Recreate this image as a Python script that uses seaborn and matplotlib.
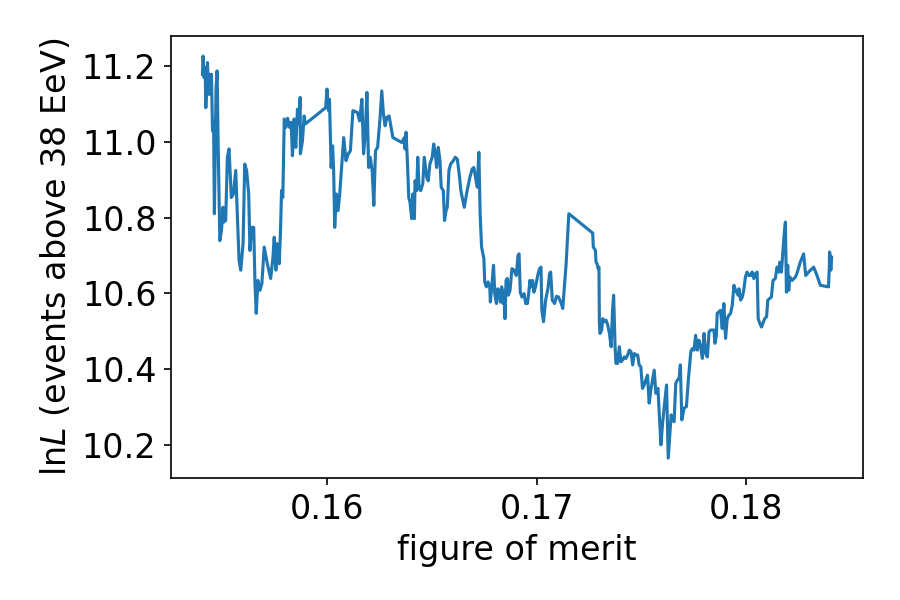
import matplotlib
matplotlib.use("Agg")
import matplotlib.pyplot as plt
import seaborn as sns
import numpy as np
import pandas as pd

# figure of merit (x) and lnL (y)
fom = [
    0.15403, 0.15406, 0.15411, 0.15416, 0.15419, 0.15427, 0.15432, 0.15438, 0.15443, 0.15446,
    0.15451, 0.15456, 0.15460, 0.15468, 0.15473, 0.15478, 0.15486, 0.15494, 0.15501, 0.15506,
    0.15514, 0.15522, 0.15530, 0.15541, 0.15551, 0.15562, 0.15570, 0.15578, 0.15586, 0.15597,
    0.15605, 0.15614, 0.15624, 0.15630, 0.15638, 0.15648, 0.15654, 0.15660, 0.15668, 0.15678,
    0.15687, 0.15698, 0.15713, 0.15729, 0.15740, 0.15746, 0.15754, 0.15760, 0.15770, 0.15776,
    0.15781, 0.15787, 0.15794, 0.15802, 0.15810, 0.15819, 0.15827, 0.15833, 0.15841, 0.15849,
    0.15857, 0.15863, 0.15870, 0.15871, 0.15881, 0.15889, 0.15895, 0.15992, 0.15998, 0.16005,
    0.16010, 0.16018, 0.16025, 0.16030, 0.16035, 0.16043, 0.16051, 0.16059, 0.16068, 0.16078,
    0.16089, 0.16100,
    0.16110, 0.16122, 0.16144, 0.16154, 0.16165, 0.16173, 0.16181, 0.16189, 0.16197, 0.16205,
    0.16214, 0.16222, 0.16230, 0.16240, 0.16252, 0.16260, 0.16268, 0.16276, 0.16284, 0.16295,
    0.16313, 0.16356, 0.16368, 0.16371, 0.16376, 0.16382, 0.16389, 0.16395, 0.16403, 0.16408,
    0.16416, 0.16419, 0.16427, 0.16432, 0.16438, 0.16446, 0.16456, 0.16463, 0.16475, 0.16482,
    0.16490, 0.16501, 0.16508, 0.16516, 0.16522, 0.16530, 0.16538, 0.16544, 0.16554, 0.16560,
    0.16567, 0.16573, 0.16581, 0.16589, 0.16602, 0.16611, 0.16621, 0.16630, 0.16638, 0.16654,
    0.16668, 0.16681, 0.16692, 0.16700, 0.16708, 0.16716, 0.16724, 0.16730,
    0.16737, 0.16748, 0.16752, 0.16760, 0.16768, 0.16776, 0.16779, 0.16787, 0.16794, 0.16800,
    0.16808, 0.16814, 0.16821, 0.16827, 0.16833, 0.16840, 0.16844, 0.16849, 0.16854, 0.16860,
    0.16865, 0.16873, 0.16882, 0.16892, 0.16903, 0.16911, 0.16916, 0.16922, 0.16930, 0.16940,
    0.16948, 0.16956, 0.16962, 0.16968, 0.16973, 0.16981, 0.16987, 0.16995, 0.17005, 0.17014,
    0.17021, 0.17025, 0.17033, 0.17043, 0.17054, 0.17062, 0.17067, 0.17075, 0.17086, 0.17095,
    0.17105, 0.17118, 0.17125, 0.17141, 0.17154, 0.17268, 0.17271, 0.17281, 0.17284, 0.17289,
    0.17294, 0.17298, 0.17300,
    0.17303, 0.17311, 0.17316, 0.17324, 0.17332, 0.17340, 0.17348, 0.17356, 0.17363, 0.17368,
    0.17375, 0.17379, 0.17387, 0.17395, 0.17403, 0.17411, 0.17419, 0.17427, 0.17435, 0.17443,
    0.17451, 0.17459, 0.17467, 0.17475, 0.17483, 0.17490, 0.17498, 0.17506, 0.17514, 0.17522,
    0.17530, 0.17538, 0.17546, 0.17554, 0.17562, 0.17570, 0.17580, 0.17586, 0.17594, 0.17602,
    0.17610, 0.17621, 0.17629, 0.17637, 0.17643, 0.17649, 0.17657, 0.17665, 0.17673, 0.17681,
    0.17687, 0.17694, 0.17705, 0.17716, 0.17725, 0.17737, 0.17744, 0.17752, 0.17760, 0.17768,
    0.17776, 0.17784, 0.17792, 0.17800, 0.17808, 0.17816, 0.17824, 0.17832, 0.17840, 0.17848,
    0.17852, 0.17859, 0.17863, 0.17871, 0.17879, 0.17887, 0.17895, 0.17903, 0.17911, 0.17919,
    0.17927, 0.17935, 0.17943, 0.17951, 0.17963,
    0.17967, 0.17975, 0.17983, 0.17990, 0.17998, 0.18006, 0.18014, 0.18022, 0.18030, 0.18038,
    0.18046, 0.18054, 0.18059, 0.18067, 0.18075, 0.18081, 0.18090, 0.18099, 0.18105, 0.18113,
    0.18122, 0.18130, 0.18141, 0.18149, 0.18157, 0.18162, 0.18170, 0.18176, 0.18182, 0.18189,
    0.18194, 0.18200, 0.18205, 0.18210, 0.18221, 0.18237, 0.18244, 0.18260, 0.18276, 0.18286,
    0.18300, 0.18324, 0.18340, 0.18356, 0.18395, 0.18399, 0.18400, 0.18403, 0.18406, 0.18410,
]

lnL = [
    11.178, 11.226, 11.169, 11.196, 11.090, 11.209, 11.125, 11.178, 11.125, 11.178,
    11.029, 11.055, 10.810, 11.143, 11.187, 10.994, 10.739, 10.766, 10.827, 10.788,
    10.792, 10.959, 10.981, 10.853, 10.862, 10.924, 10.801, 10.687, 10.661, 10.731,
    10.941, 10.924, 10.862, 10.713, 10.774, 10.774, 10.626, 10.547, 10.634, 10.608,
    10.626, 10.722, 10.678, 10.639, 10.696, 10.748, 10.661, 10.731, 10.678, 10.766,
    10.871, 10.853, 11.060, 11.038, 11.062, 11.038, 11.051, 10.963, 11.060, 10.985,
    11.086, 11.047, 11.117, 10.968, 11.003, 11.068, 11.047, 11.090, 11.139, 11.082,
    11.112, 10.932, 10.989, 10.924, 10.774, 10.862, 10.818, 10.862, 10.932, 11.011,
    10.950, 10.968,
    10.976, 11.082, 11.077, 11.055, 11.112, 10.968, 11.020, 11.130, 10.932, 10.959,
    10.924, 10.832, 10.976, 10.985, 11.064, 11.134, 11.073, 11.042, 11.064, 11.068,
    11.011, 10.998, 11.011, 10.981, 11.025, 10.954, 10.853, 10.840, 10.797, 10.862,
    10.797, 10.897, 10.871, 10.959, 10.880, 10.871, 10.889, 10.959, 10.906, 10.897,
    10.941, 10.959, 10.994, 10.968, 10.932, 10.985, 10.950, 10.880, 10.871, 10.792,
    10.818, 10.827, 10.924, 10.941, 10.950, 10.959, 10.954, 10.915, 10.871, 10.827,
    10.871, 10.906, 10.928, 10.932, 10.906, 10.880, 10.972, 10.810,
    10.722, 10.691, 10.630, 10.617, 10.630, 10.617, 10.577, 10.626, 10.674, 10.599,
    10.573, 10.612, 10.608, 10.577, 10.617, 10.573, 10.608, 10.533, 10.634, 10.639,
    10.595, 10.608, 10.665, 10.661, 10.647, 10.700, 10.704, 10.603, 10.590, 10.599,
    10.573, 10.573, 10.599, 10.634, 10.617, 10.634, 10.603, 10.617, 10.647, 10.665,
    10.669, 10.555, 10.525, 10.582, 10.612, 10.652, 10.656, 10.582, 10.573, 10.592,
    10.590, 10.573, 10.560, 10.678, 10.810, 10.759, 10.722, 10.713, 10.682, 10.678,
    10.665, 10.669, 10.520,
    10.494, 10.503, 10.533, 10.525, 10.529, 10.516, 10.494, 10.459, 10.555, 10.595,
    10.459, 10.415, 10.415, 10.459, 10.419, 10.424, 10.432, 10.428, 10.437, 10.450,
    10.446, 10.411, 10.441, 10.437, 10.437, 10.411, 10.406, 10.349, 10.358, 10.371,
    10.384, 10.310, 10.345, 10.371, 10.397, 10.336, 10.349, 10.283, 10.200, 10.257,
    10.301, 10.358, 10.165, 10.231, 10.279, 10.266, 10.261, 10.362, 10.371, 10.376,
    10.411, 10.266, 10.297, 10.301, 10.371, 10.446, 10.454, 10.450, 10.489, 10.450,
    10.476, 10.459, 10.428, 10.494, 10.441, 10.432, 10.498, 10.503, 10.503, 10.503,
    10.468, 10.489, 10.547, 10.551, 10.555, 10.507, 10.573, 10.481, 10.533, 10.542,
    10.547, 10.568, 10.621, 10.608, 10.595,
    10.612, 10.582, 10.590, 10.608, 10.643, 10.656, 10.647, 10.647, 10.656, 10.639,
    10.652, 10.656, 10.533, 10.520, 10.511, 10.520, 10.533, 10.538, 10.582, 10.586,
    10.590, 10.634, 10.639, 10.669, 10.656, 10.682, 10.656, 10.704, 10.748, 10.788,
    10.603, 10.674, 10.608, 10.643, 10.634, 10.643, 10.652, 10.682, 10.704, 10.647,
    10.656, 10.669, 10.647, 10.621, 10.617, 10.669, 10.709, 10.700, 10.661, 10.695,
]

x_ticks = [0.16, 0.17, 0.18]
y_ticks = [10.2, 10.4, 10.6, 10.8, 11.0, 11.2]

df = pd.DataFrame({"fom": fom, "lnL": lnL})

plt.rcParams["font.size"] = 16
fig, ax = plt.subplots(figsize=(6, 4), dpi=150)
sns.lineplot(data=df, x="fom", y="lnL", estimator=None, sort=False,
             color="#1f77b4", linewidth=1.5, ax=ax)
ax.set_xticks(x_ticks)
ax.set_yticks(y_ticks)
ax.set_xlabel("figure of merit")
ax.set_ylabel(r"ln$L$ (events above 38 EeV)")
fig.subplots_adjust(left=0.19, right=0.959, top=0.94, bottom=0.203)
fig.savefig("out.png", dpi=150)
